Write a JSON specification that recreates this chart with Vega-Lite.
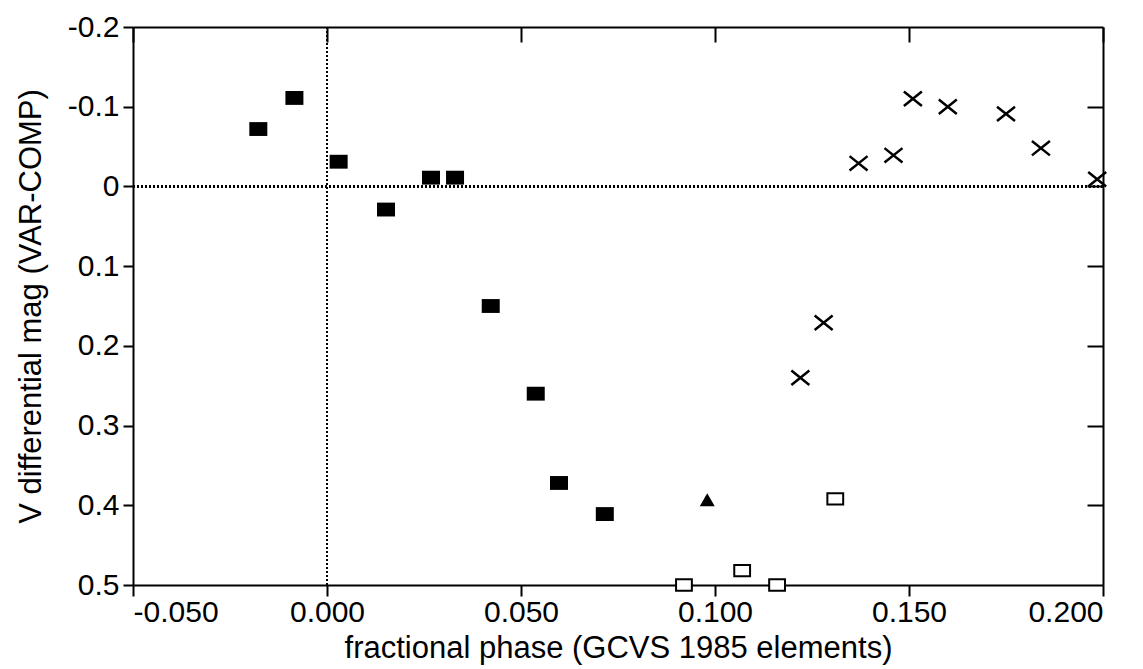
{
  "$schema": "https://vega.github.io/schema/vega-lite/v6.json",
  "width": 970,
  "height": 558,
  "autosize": {"type": "none"},
  "padding": {"left": 133, "top": 27, "right": 40, "bottom": 84},
  "background": "white",
  "config": {
    "view": {"stroke": null},
    "font": "Liberation Sans",
    "axis": {
      "labelFont": "Liberation Sans",
      "titleFont": "Liberation Sans",
      "labelColor": "black",
      "titleColor": "black",
      "titleFontWeight": "normal",
      "labelFontSize": 30,
      "titleFontSize": 31,
      "domainColor": "black",
      "domainWidth": 2,
      "tickColor": "black",
      "tickWidth": 2,
      "grid": false
    }
  },
  "datasets": {
    "pts": [
      {"phase": -0.0177, "mag": -0.072, "type": "filled"},
      {"phase": -0.0084, "mag": -0.111, "type": "filled"},
      {"phase": 0.003, "mag": -0.031, "type": "filled"},
      {"phase": 0.0152, "mag": 0.029, "type": "filled"},
      {"phase": 0.0268, "mag": -0.011, "type": "filled"},
      {"phase": 0.033, "mag": -0.011, "type": "filled"},
      {"phase": 0.0422, "mag": 0.15, "type": "filled"},
      {"phase": 0.0538, "mag": 0.26, "type": "filled"},
      {"phase": 0.0598, "mag": 0.372, "type": "filled"},
      {"phase": 0.0716, "mag": 0.411, "type": "filled"},
      {"phase": 0.098, "mag": 0.393, "type": "triangle"},
      {"phase": 0.092, "mag": 0.5, "type": "open"},
      {"phase": 0.107, "mag": 0.482, "type": "open"},
      {"phase": 0.116, "mag": 0.5, "type": "open"},
      {"phase": 0.131, "mag": 0.392, "type": "open"},
      {"phase": 0.122, "mag": 0.24, "type": "cross"},
      {"phase": 0.128, "mag": 0.171, "type": "cross"},
      {"phase": 0.137, "mag": -0.029, "type": "cross"},
      {"phase": 0.146, "mag": -0.039, "type": "cross"},
      {"phase": 0.151, "mag": -0.11, "type": "cross"},
      {"phase": 0.16, "mag": -0.1, "type": "cross"},
      {"phase": 0.175, "mag": -0.091, "type": "cross"},
      {"phase": 0.184, "mag": -0.048, "type": "cross"},
      {"phase": 0.1985, "mag": -0.009, "type": "cross"}
    ]
  },
  "data": {"name": "pts"},
  "layer": [
    {
      "mark": {"type": "rule", "color": "black", "strokeWidth": 1.5, "strokeDash": [2, 2]},
      "encoding": {"x": {"datum": 0, "type": "quantitative", "axis": null}}
    },
    {
      "mark": {"type": "rule", "color": "black", "strokeWidth": 1.5, "strokeDash": [2, 2]},
      "encoding": {"y": {"datum": 0, "type": "quantitative", "axis": null}}
    },
    {
      "transform": [{"filter": "datum.type === 'filled'"}],
      "mark": {"type": "point", "shape": "M-1,-0.77H1V0.77H-1Z", "filled": true, "fill": "black", "stroke": null, "size": 324, "opacity": 1},
      "encoding": {
        "x": {"field": "phase", "type": "quantitative", "scale": {"domain": [-0.05, 0.2], "nice": false, "zero": false},
          "axis": {"orient": "bottom", "values": [-0.05, 0, 0.05, 0.1, 0.15, 0.2], "tickSize": 11, "labelPadding": 1,
            "labelExpr": "replace(format(datum.value, '.3f'), '\u2212', '-')",
            "title": "fractional phase (GCVS 1985 elements)", "titlePadding": 6,
            "encode": {"labels": {"update": {"dx": {"signal": "datum.value > 0.19 ? -33 : 0"}}}}}},
        "y": {"field": "mag", "type": "quantitative", "scale": {"domain": [-0.2, 0.5], "nice": false, "zero": false, "reverse": true},
          "axis": {"orient": "left", "values": [-0.2, -0.1, 0, 0.1, 0.2, 0.3, 0.4, 0.5], "tickSize": 10, "labelPadding": 4,
            "labelExpr": "datum.value == 0 ? '0' : replace(format(datum.value, '.1f'), '\u2212', '-')",
            "title": "V differential mag (VAR-COMP)", "titlePadding": 20}}
      }
    },
    {
      "transform": [{"filter": "datum.type === 'open'"}],
      "mark": {"type": "point", "shape": "M-1,-0.72H1V0.72H-1Z", "filled": false, "stroke": "black", "strokeWidth": 2, "fill": "white", "size": 250, "opacity": 1},
      "encoding": {
        "x": {"field": "phase", "type": "quantitative", "axis": null},
        "y": {"field": "mag", "type": "quantitative", "axis": null}
      }
    },
    {
      "transform": [{"filter": "datum.type === 'triangle'"}],
      "mark": {"type": "point", "shape": "triangle-up", "filled": true, "fill": "black", "stroke": null, "size": 225, "opacity": 1},
      "encoding": {
        "x": {"field": "phase", "type": "quantitative", "axis": null},
        "y": {"field": "mag", "type": "quantitative", "axis": null}
      }
    },
    {
      "transform": [{"filter": "datum.type === 'cross'"}],
      "mark": {"type": "point", "shape": "M-1,-0.8L1,0.8M-1,0.8L1,-0.8", "filled": false, "stroke": "black", "strokeWidth": 2.5, "size": 324, "opacity": 1},
      "encoding": {
        "x": {"field": "phase", "type": "quantitative",
          "axis": {"orient": "top", "values": [-0.05, 0, 0.05, 0.1, 0.15, 0.2], "tickSize": -15, "labels": false, "title": null}},
        "y": {"field": "mag", "type": "quantitative",
          "axis": {"orient": "right", "values": [-0.1, 0, 0.1, 0.2, 0.3, 0.4], "tickSize": -16, "labels": false, "title": null}}
      }
    }
  ],
  "resolve": {"axis": {"x": "independent", "y": "independent"}}
}
